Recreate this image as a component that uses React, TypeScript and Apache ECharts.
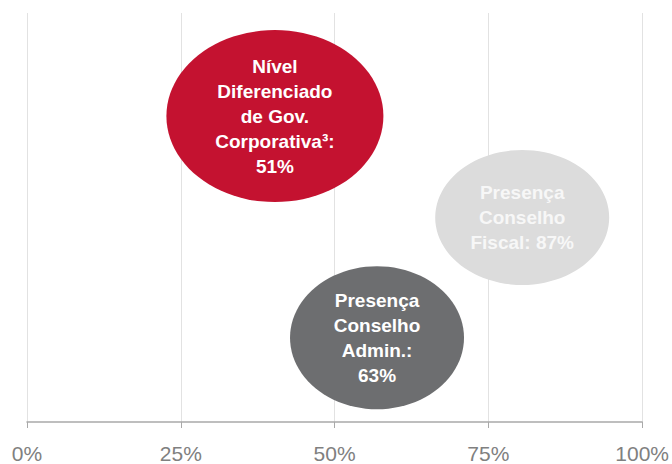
import React, { useEffect, useRef } from "react";
import * as echarts from "echarts";

const xTicks = [0, 25, 50, 75, 100];
const bubbleNames = [
  "Nível\nDiferenciado\nde Gov.\nCorporativa³:\n51%",
  "Presença\nConselho\nFiscal: 87%",
  "Presença\nConselho\nAdmin.:\n63%",
];
const bubbleX = [40.3, 80.5, 56.9];
const bubbleY = [74.8, 50, 20.6];
const bubbleW = [217, 174, 174];
const bubbleH = [172, 135, 143];
const bubbleColors = ["#C41230", "#DCDCDC", "#6D6E70"];
const bubbleTextColors = ["#ffffff", "#f7f7f7", "#ffffff"];

export default function App() {
  const ref = useRef<HTMLDivElement>(null);
  useEffect(() => {
    document.body.style.margin = "0";
    const chart = echarts.init(ref.current!, null, { renderer: "svg" });
    const data = bubbleNames.map((n, i) => ({
      name: n,
      value: [bubbleX[i], bubbleY[i]],
      symbolSize: [bubbleW[i], bubbleH[i]],
      itemStyle: { color: bubbleColors[i], opacity: 1 },
      label: { color: bubbleTextColors[i] },
    }));
    chart.setOption({
      animation: false,
      grid: { left: 27, right: 28, top: 13, bottom: 41 },
      xAxis: {
        type: "value",
        min: 0,
        max: 100,
        interval: 25,
        axisLine: { show: true, lineStyle: { color: "#a9a9a9", width: 1.5 } },
        axisTick: { show: true, length: 6, lineStyle: { color: "#a9a9a9", width: 1 } },
        axisLabel: {
          formatter: (v: number) => (xTicks.includes(v) ? v + "%" : ""),
          color: "#808080",
          fontSize: 21,
          fontFamily: "Liberation Sans, Arial, sans-serif",
          margin: 21,
        },
        splitLine: { show: true, lineStyle: { color: "#e2e2e2", width: 1 } },
      },
      yAxis: {
        type: "value",
        min: 0,
        max: 100,
        show: false,
        splitLine: { show: false },
      },
      series: [
        {
          type: "scatter",
          symbol: "circle",
          data,
          itemStyle: { opacity: 1 },
          label: {
            show: true,
            position: "inside",
            formatter: (p: any) => p.name,
            fontSize: 19,
            fontWeight: "bold",
            lineHeight: 25,
            align: "center",
            fontFamily: "Liberation Sans, Arial, sans-serif",
          },
          emphasis: { disabled: true },
        },
      ],
    });
    return () => chart.dispose();
  }, []);
  return <div ref={ref} style={{ width: 672, height: 464 }} />;
}
